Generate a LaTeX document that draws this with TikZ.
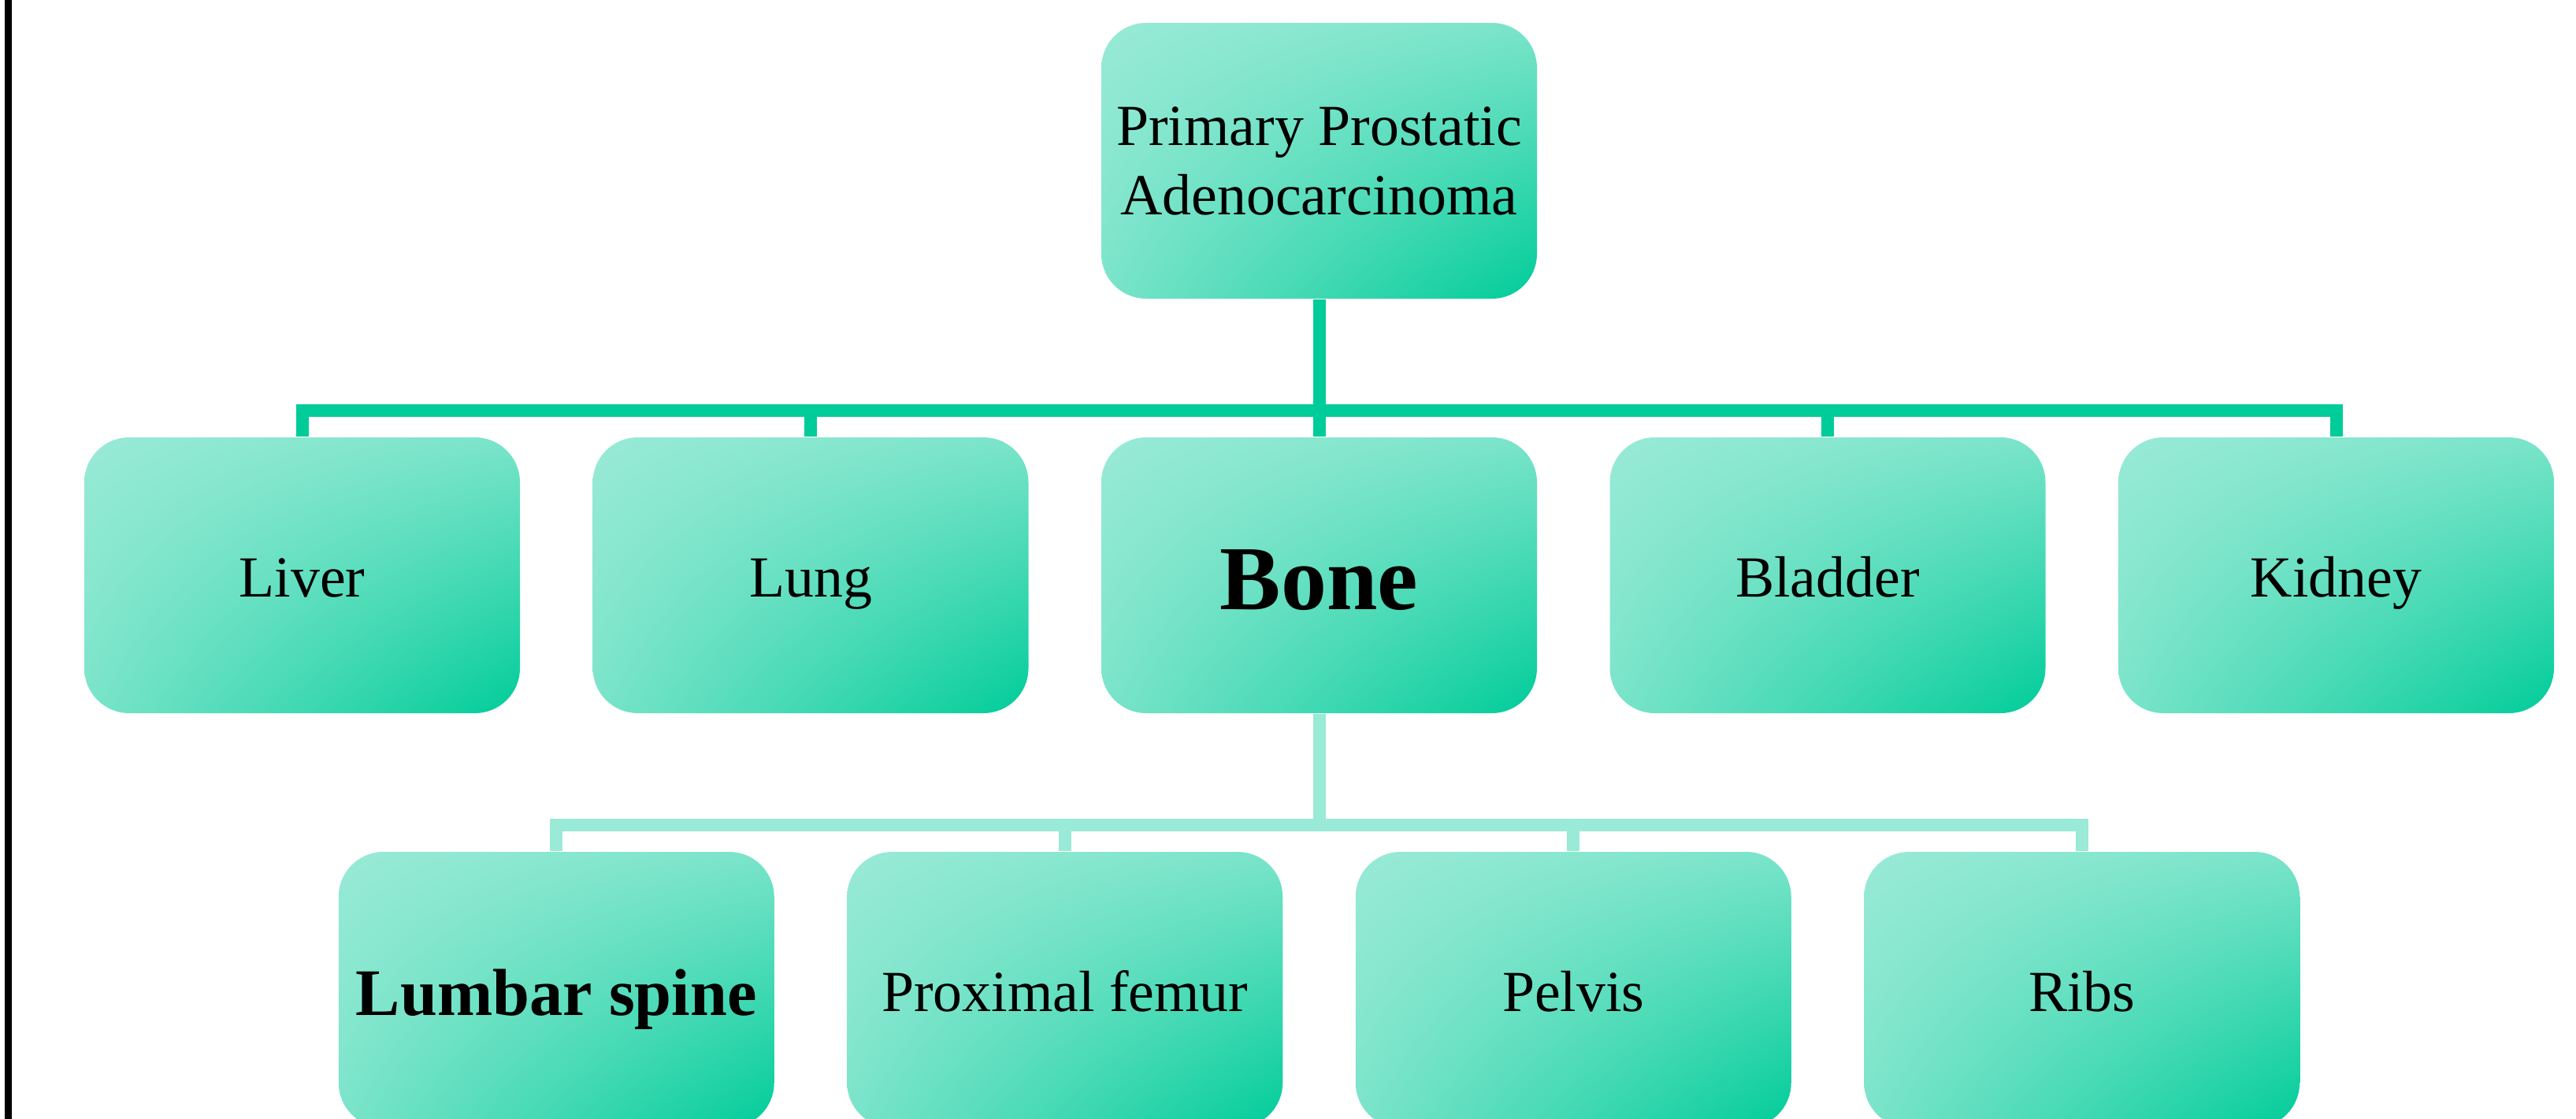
\documentclass[tikz,border=0pt]{standalone}
\usepackage{fontspec}
\setmainfont{Liberation Serif}
\usepackage{xcolor}
\usetikzlibrary{shadings}
\definecolor{mintlight}{RGB}{153,234,214}
\definecolor{mintdark}{RGB}{0,204,153}

\begin{document}
\begin{tikzpicture}[
    site/.style={rectangle, rounded corners=0.57cm, minimum width=5.53cm, minimum height=3.5cm,
        inner sep=0pt, align=center, font=\fontsize{21}{25}\selectfont,
        shade, upper left=mintlight, upper right=mintlight!80!mintdark,
        lower left=mintlight!80!mintdark, lower right=mintdark},
    oneline/.style={text height=0.62cm, text depth=0.07cm},
    toplink/.style={draw=mintdark, line width=0.16cm},
    bonelink/.style={draw=mintlight, line width=0.16cm}
]
    % Define the spacing and the rows
    \def\dx{6.455}
    \def\xmid{16.745}
    \def\rowA{-2.04}
    \def\rowB{-7.30}
    \def\rowC{-12.56}

    % Fix the frame of the picture
    \useasboundingbox (0,0) rectangle (32.7,-14.2);
    \clip (0,0) rectangle (32.7,-14.2);

    % Border line on the left
    \fill[black] (0.06,0) rectangle (0.15,-14.2);

    % Primary tumour
    \node[site] (prim) at (\xmid,\rowA) {Primary Prostatic\\Adenocarcinoma};

    % Metastatic sites
    \node[site, oneline] (liver) at ({\xmid-2*\dx},\rowB) {Liver};
    \node[site, oneline] (lung) at ({\xmid-\dx},\rowB) {Lung};
    \node[site, font=\bfseries\fontsize{33}{40}\selectfont,
        text height=0.95cm, text depth=0.09cm] (bone) at (\xmid,\rowB) {Bone};
    \node[site, oneline] (bladder) at ({\xmid+\dx},\rowB) {Bladder};
    \node[site, oneline] (kidney) at ({\xmid+2*\dx},\rowB) {Kidney};

    % Bone sites
    \node[site, font=\bfseries\fontsize{24}{29}\selectfont,
        text height=0.71cm, text depth=0.07cm] (lumbar) at ({\xmid-1.5*\dx},\rowC) {Lumbar spine};
    \node[site, oneline] (femur) at ({\xmid-0.5*\dx},\rowC) {Proximal femur};
    \node[site, oneline] (pelvis) at ({\xmid+0.5*\dx},\rowC) {Pelvis};
    \node[site, oneline] (ribs) at ({\xmid+1.5*\dx},\rowC) {Ribs};

    % Tree from the primary tumour
    \path (prim.south) ++(0,-1.41) coordinate (barA);
    \draw[toplink] (prim.south) -- (bone.north);
    \draw[toplink] (barA) -| (liver.north);
    \draw[toplink] (barA) -| (lung.north);
    \draw[toplink] (barA) -| (bladder.north);
    \draw[toplink] (barA) -| (kidney.north);

    % Tree from bone
    \path (bone.south) ++(0,-1.415) coordinate (barB);
    \draw[bonelink] (bone.south) -- (barB);
    \draw[bonelink] (barB) -| (lumbar.north);
    \draw[bonelink] (barB) -| (femur.north);
    \draw[bonelink] (barB) -| (pelvis.north);
    \draw[bonelink] (barB) -| (ribs.north);
\end{tikzpicture}
\end{document}
